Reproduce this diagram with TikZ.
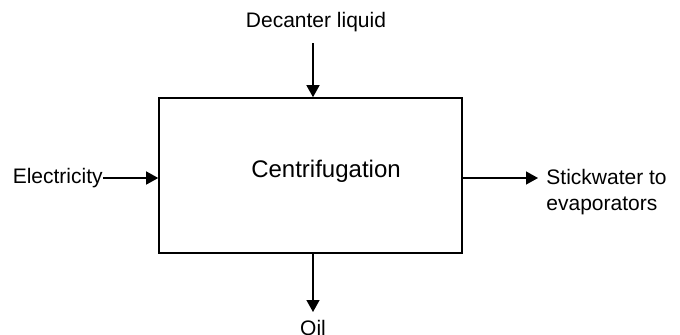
\documentclass[tikz,border=0pt]{standalone}
\usepackage{fontspec}
\setmainfont{Liberation Sans}
\usetikzlibrary{arrows.meta,positioning}
\tikzset{
  >={Triangle[length=6pt,width=6.5pt]},
  every node/.style={font=\fontsize{10.5}{13}\selectfont,inner sep=0pt},
  procbox/.style={draw,line width=0.8pt,minimum width=151.5pt,minimum height=77.5pt},
  flow/.style={->,line width=0.7pt},
  title/.style={font=\fontsize{12}{14}\selectfont},
}

\begin{document}
\begin{tikzpicture}[x=0.5pt,y=-0.5pt]
\useasboundingbox (0,0) rectangle (680,334);

\node[procbox] (box) at (310.5,175.5) {};
\node[title,anchor=base] (centri) at (326,177) {Centrifugation};

\node[anchor=base] (decanter) at (316,27) {Decanter liquid};
\node[anchor=east] (elec) at (103,178) {Electricity};
\node[anchor=north west,align=left] (stick) at (546,169) {Stickwater to\\evaporators};
\node[anchor=base] (oil) at (313,335) {Oil};

\coordinate (din) at (313,43);
\coordinate (sout) at (538,178);
\coordinate (oout) at (313,312);

\draw[flow] (din) -- (din |- box.north);
\draw[flow] (elec.east) -- (elec.east -| box.west);
\draw[flow] (sout -| box.east) -- (sout);
\draw[flow] (oout |- box.south) -- (oout);

\end{tikzpicture}
\end{document}
